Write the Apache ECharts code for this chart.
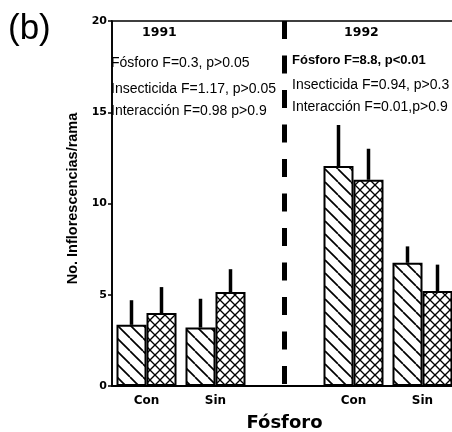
<!DOCTYPE html>
<html>
<head>
<meta charset="utf-8">
<script src="https://cdn.jsdelivr.net/npm/echarts@6/dist/echarts.min.js"></script>
<style>
  html, body { margin: 0; padding: 0; background: #fff; }
  #chart { width: 452px; height: 432px; }
</style>
</head>
<body>
<div id="chart"></div>
<script>
// categories along x (third slot is the empty gap with the 1991/1992 divider)
const categories = ['Con', 'Sin', '', 'Con', 'Sin'];
const dividerAt = 2;

// diagonal hatched bars
const diagMeans = [3.35, 3.2, null, 12.05, 6.75];
const diagUpper = [4.7, 4.78, null, 14.3, 7.65];
// cross hatched bars
const crossMeans = [4.0, 5.15, null, 11.3, 5.2];
const crossUpper = [5.42, 6.4, null, 13.0, 6.65];

const yTicks = [0, 5, 10, 15, 20];

const notes1991 = ['Fósforo F=0.3, p>0.05', 'Insecticida F=1.17, p>0.05', 'Interacción F=0.98 p>0.9'];
const notes1992 = ['Fósforo F=8.8, p<0.01', 'Insecticida F=0.94, p>0.3', 'Interacción F=0.01,p>0.9'];

function makePattern(size, both) {
  const c = document.createElement('canvas');
  c.width = size;
  c.height = size;
  const ctx = c.getContext('2d');
  ctx.fillStyle = '#fff';
  ctx.fillRect(0, 0, size, size);
  ctx.strokeStyle = '#000';
  ctx.lineWidth = both ? 1.3 : 1.7;
  for (let k = -1; k <= 1; k++) {
    ctx.beginPath();
    ctx.moveTo(k * size, 0);
    ctx.lineTo(k * size + size, size);
    ctx.stroke();
    if (both) {
      ctx.beginPath();
      ctx.moveTo(k * size, size);
      ctx.lineTo(k * size + size, 0);
      ctx.stroke();
    }
  }
  return c;
}

function errData(means, upper) {
  const out = [];
  means.forEach((m, i) => {
    if (m != null) out.push([i, m, upper[i]]);
  });
  return out;
}

function errRender(offset) {
  return function (params, api) {
    const base = api.coord([api.value(0), api.value(1)]);
    const top = api.coord([api.value(0), api.value(2)]);
    return {
      type: 'line',
      shape: { x1: base[0] + offset, y1: base[1], x2: top[0] + offset, y2: top[1] },
      style: { stroke: '#000', lineWidth: 3.5 }
    };
  };
}

const chart = echarts.init(document.getElementById('chart'));

const textStyle = { fill: '#000', fontFamily: 'Liberation Sans', fontSize: 14 };

chart.setOption({
  backgroundColor: '#fff',
  animation: false,
  grid: {
    left: 112, right: -5, top: 21, bottom: 46,
    outerBoundsMode: 'none',
    containLabel: false,
    show: true, borderColor: '#000', borderWidth: 1.5, backgroundColor: 'transparent'
  },
  xAxis: {
    type: 'category',
    data: categories,
    name: 'Fósforo',
    nameLocation: 'middle',
    nameGap: 28,
    nameTextStyle: { fontFamily: 'DejaVu Sans', fontWeight: 'bold', fontSize: 18, color: '#000' },
    axisLine: { lineStyle: { color: '#000', width: 2 } },
    axisTick: { show: false },
    axisLabel: { color: '#000', fontFamily: 'DejaVu Sans', fontWeight: 'bold', fontSize: 12, margin: 9 }
  },
  yAxis: {
    type: 'value',
    min: yTicks[0],
    max: yTicks[yTicks.length - 1],
    interval: 5,
    name: 'No. Inflorescencias/rama',
    nameLocation: 'middle',
    nameGap: 31,
    nameTextStyle: { fontFamily: 'Liberation Sans', fontWeight: 'bold', fontSize: 14.5, color: '#000', padding: [0, 0, 0, 10] },
    axisLine: { show: true, lineStyle: { color: '#000', width: 1.7 } },
    axisTick: { show: true, length: 4, lineStyle: { color: '#000', width: 1.5 } },
    axisLabel: { color: '#000', fontFamily: 'DejaVu Sans', fontWeight: 'bold', fontSize: 11, margin: 5 },
    splitLine: { show: false }
  },
  series: [
    {
      type: 'bar',
      data: diagMeans,
      barWidth: 30,
      barGap: '0%',
      itemStyle: { color: { image: makePattern(13, false), repeat: 'repeat' }, borderColor: '#000', borderWidth: 2 }
    },
    {
      type: 'bar',
      data: crossMeans,
      barWidth: 30,
      barGap: '0%',
      itemStyle: { color: { image: makePattern(10, true), repeat: 'repeat' }, borderColor: '#000', borderWidth: 2 }
    },
    {
      type: 'custom',
      data: errData(diagMeans, diagUpper),
      renderItem: errRender(-15),
      z: 5
    },
    {
      type: 'custom',
      data: errData(crossMeans, crossUpper),
      renderItem: errRender(15),
      z: 5
    },
    {
      type: 'custom',
      data: [[dividerAt, yTicks[yTicks.length - 1], yTicks[0]]],
      renderItem: function (params, api) {
        const a = api.coord([api.value(0), api.value(1)]);
        const b = api.coord([api.value(0), api.value(2)]);
        return {
          type: 'line',
          shape: { x1: a[0], y1: a[1], x2: b[0], y2: b[1] },
          style: { stroke: '#000', lineWidth: 5, lineDash: [18, 16.5] }
        };
      },
      z: 5
    }
  ],
  graphic: [
    { type: 'text', left: 8, top: 12, style: { text: '(b)', fill: '#000', fontFamily: 'Liberation Sans', fontSize: 35 } },
    { type: 'text', x: 142, y: 33, style: Object.assign({}, textStyle, { text: '1991', fontFamily: 'DejaVu Sans', fontWeight: 'bold', fontSize: 12.5, verticalAlign: 'middle' }) },
    { type: 'text', x: 344, y: 33, style: Object.assign({}, textStyle, { text: '1992', fontFamily: 'DejaVu Sans', fontWeight: 'bold', fontSize: 12.5, verticalAlign: 'middle' }) },
    { type: 'text', x: 111, y: 63, style: Object.assign({}, textStyle, { text: notes1991[0], verticalAlign: 'middle' }) },
    { type: 'text', x: 111, y: 89, style: Object.assign({}, textStyle, { text: notes1991[1], verticalAlign: 'middle' }) },
    { type: 'text', x: 111, y: 111, style: Object.assign({}, textStyle, { text: notes1991[2], verticalAlign: 'middle' }) },
    { type: 'text', x: 292, y: 60, style: Object.assign({}, textStyle, { text: notes1992[0], fontWeight: 'bold', fontSize: 13, verticalAlign: 'middle' }) },
    { type: 'text', x: 292, y: 85, style: Object.assign({}, textStyle, { text: notes1992[1], fontSize: 14, verticalAlign: 'middle' }) },
    { type: 'text', x: 292, y: 107, style: Object.assign({}, textStyle, { text: notes1992[2], fontSize: 14, verticalAlign: 'middle' }) }
  ]
});
</script>
</body>
</html>
